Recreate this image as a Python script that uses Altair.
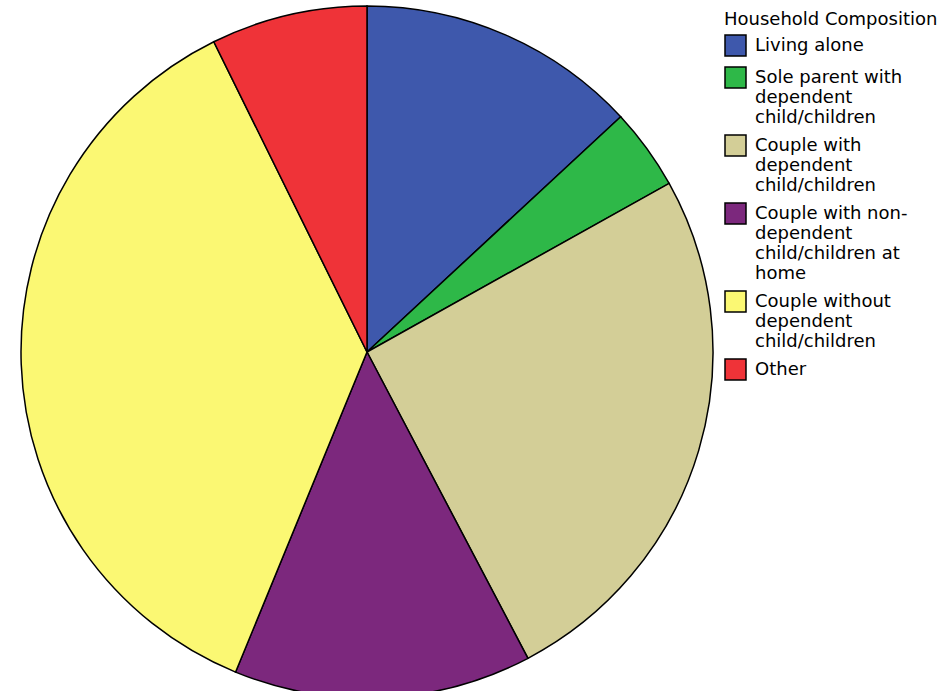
import altair as alt
import pandas as pd

categories = [
    "Living alone",
    "Sole parent with|dependent|child/children",
    "Couple with|dependent|child/children",
    "Couple with non-|dependent|child/children at|home",
    "Couple without|dependent|child/children",
    "Other",
]
percent = [13.1, 3.8, 25.4, 13.9, 36.5, 7.3]
colors = ["#3e58ac", "#2eb848", "#d3ce97", "#7c287d", "#fbf873", "#ef3338"]

df = pd.DataFrame({
    "category": categories,
    "value": percent,
    "idx": list(range(len(categories))),
})

FONT = "DejaVu Sans"

chart = alt.Chart(df).mark_arc(
    x=367, y=352, radius=346, stroke="black", strokeWidth=1.5
).encode(
    theta=alt.Theta("value:Q", stack=True),
    order=alt.Order("idx:Q"),
    color=alt.Color(
        "category:N",
        scale=alt.Scale(domain=categories, range=colors),
        legend=alt.Legend(
            title="Household Composition",
            orient="none",
            legendX=724,
            legendY=11,
            labelExpr="split(datum.label, '|')",
            symbolType="square",
            symbolSize=441,
            symbolStrokeColor="black",
            symbolStrokeWidth=1.5,
            symbolOpacity=1,
            labelOffset=8,
            labelLimit=300,
            labelFont=FONT,
            labelFontSize=18,
            labelColor="black",
            titleFont=FONT,
            titleFontSize=18,
            titleFontWeight="normal",
            titleColor="black",
            titleLimit=400,
            titlePadding=5,
            rowPadding=5,
            padding=0,
        ),
    ),
).properties(
    width=951,
    height=691,
    autosize=alt.AutoSizeParams(type="none"),
    padding=0,
).configure_view(stroke=None)

chart.save("out.html", embed_options={"renderer": "svg", "actions": False})
